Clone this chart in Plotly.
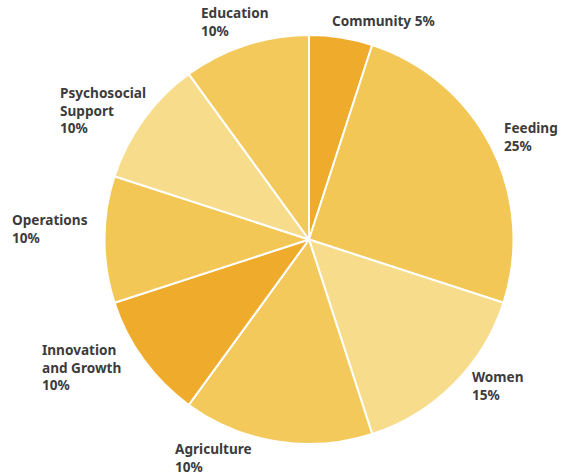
import plotly.graph_objects as go

categories = ["Community", "Feeding", "Women", "Agriculture",
              "Innovation and Growth", "Operations", "Psychosocial Support", "Education"]
values = [5, 25, 15, 15, 10, 10, 10, 10]
label_texts = ["Community 5%", "Feeding<br>25%", "Women<br>15%", "Agriculture<br>10%",
               "Innovation<br>and Growth<br>10%", "Operations<br>10%",
               "Psychosocial<br>Support<br>10%", "Education<br>10%"]
colors = ["#EFAB2C", "#F2C755", "#F7DC8C", "#F2C95A",
          "#EFAB2C", "#F2C755", "#F7DC8C", "#F2C95A"]
# label anchor positions (pixels: left x, middle y)
label_px = [(330, 20), (502, 137), (470, 385), (173, 457),
            (40, 367), (10, 228), (58, 110), (199, 22)]

W, H = 570, 475
fig = go.Figure(go.Pie(
    labels=categories, values=values, sort=False, direction="clockwise",
    rotation=0, marker=dict(colors=colors, line=dict(color="white", width=2)),
    textinfo="none", hoverinfo="label+percent",
    domain=dict(x=[104 / W, 514 / W], y=[1 - 444 / H, 1 - 35 / H]),
))
for t, (px, py) in zip(label_texts, label_px):
    fig.add_annotation(text=t, x=px / W, y=1 - py / H, xref="paper", yref="paper",
                       xanchor="left", yanchor="middle", align="left", showarrow=False,
                       font=dict(family="Noto Sans", size=13.6, color="#3C3C3C", weight="bold"))
fig.update_layout(width=W, height=H, margin=dict(l=0, r=0, t=0, b=0),
                  paper_bgcolor="white", showlegend=False)
fig.write_html("out.html", config={"displayModeBar": False},
               post_script="document.body.style.margin='0';")
